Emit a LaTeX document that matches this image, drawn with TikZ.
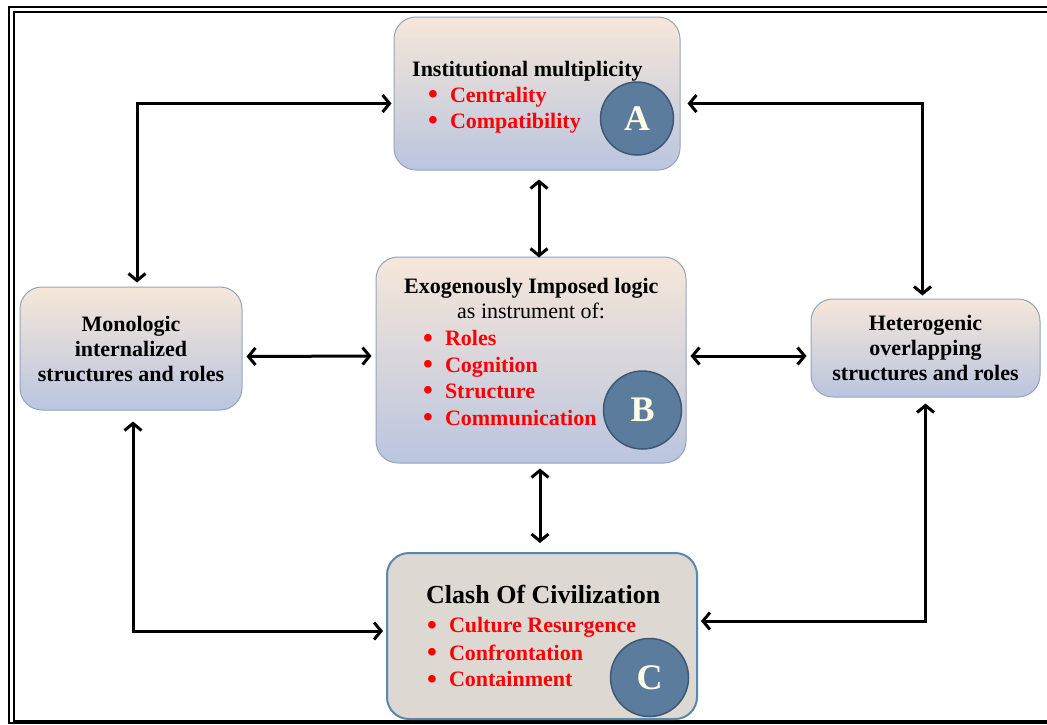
\documentclass[tikz,border=0pt]{standalone}
\usepackage{fontspec}
\setmainfont{Liberation Serif}
\usetikzlibrary{arrows.meta,positioning}

\definecolor{boxtop}{HTML}{F6E7D9}
\definecolor{boxbot}{HTML}{BAC5DF}
\definecolor{boxline}{HTML}{93A5BC}
\definecolor{clashfill}{HTML}{DDD9D2}
\definecolor{clashline}{HTML}{5C86AA}
\definecolor{discfill}{HTML}{5B7C9C}
\definecolor{discline}{HTML}{3E5873}
\definecolor{letter}{HTML}{FFFDE6}
\definecolor{itemred}{HTML}{FF0000}

\newcommand{\bul}[1]{\smash{\raisebox{-1.5pt}{\fontsize{28}{28}\selectfont\textbullet}}\hspace{12pt}#1}

\begin{document}
\begin{tikzpicture}[x=1pt,y=-1pt,
  box/.style={draw=boxline,line width=1pt,rounded corners=22pt,top color=boxtop,bottom color=boxbot,
    font=\fontsize{22}{25}\selectfont\bfseries,align=center},
  clashbox/.style={draw=clashline,line width=2pt,rounded corners=22pt,fill=clashfill},
  disc/.style={circle,draw=discline,line width=1.5pt,fill=discfill,text=letter,inner sep=0pt,
    font=\fontsize{36}{36}\selectfont\bfseries},
  title/.style={anchor=base west,inner sep=0pt,font=\fontsize{22}{26}\selectfont\bfseries},
  item/.style={anchor=base west,inner sep=0pt,text=itemred,font=\fontsize{22}{26}\selectfont\bfseries},
  link/.style={line width=3pt,shorten >=1pt,shorten <=1pt,
    {Straight Barb[length=7pt,width=17pt]}-{Straight Barb[length=7pt,width=17pt]}}]
\useasboundingbox (0,0) rectangle (1047,724);

% frame
\draw[line width=2.5pt] (9,7) rectangle (1070,723);
\draw[line width=2pt] (14,12) rectangle (1070,720.5);

% boxes
\node[box,minimum width=286pt,minimum height=153pt] (inst) at (537,93.5) {};
\node[box,minimum width=310pt,minimum height=206pt] (exo) at (531,360) {};
\node[clashbox,minimum width=310pt,minimum height=166pt] (clash) at (542,636) {};
\node[box,minimum width=222pt,minimum height=123pt] (mono) at (131,348.5) {Monologic\\internalized\\structures and roles};
\node[box,minimum width=229pt,minimum height=98pt] (hetero) at (925.5,348) {Heterogenic\\overlapping\\structures and roles};

% letters
\node[disc,minimum size=73pt] (discA) at (637,118.5) {A};
\node[disc,minimum size=78pt] (discB) at (642.5,410) {B};
\node[disc,minimum size=78pt] (discC) at (649.5,677.5) {C};

% box A
\node[title] (instT) at (412,76) {Institutional multiplicity};
\node[item] (instI1) at (428,102) {\bul{Centrality}};
\node[item] (instI2) at (428,128) {\bul{Compatibility}};

% box B
\node[title] (exoT) at (404,293) {Exogenously Imposed logic};
\node[anchor=base west,inner sep=0pt,font=\fontsize{22}{26}\selectfont] (exoS) at (457,318) {as instrument of:};
\node[item] (exoI1) at (423,345.5) {\bul{Roles}};
\node[item] (exoI2) at (423,372) {\bul{Cognition}};
\node[item] (exoI3) at (423,398) {\bul{Structure}};
\node[item] (exoI4) at (423,425) {\bul{Communication}};

% box C
\node[title,font=\fontsize{26}{30}\selectfont\bfseries] (clashT) at (426,603) {Clash Of Civilization};
\node[item] (clashI1) at (427,632.7) {\bul{Culture Resurgence}};
\node[item] (clashI2) at (427,660) {\bul{Confrontation}};
\node[item] (clashI3) at (427,686.7) {\bul{Containment}};

% connectors
\draw[link] ([shift={(6,-3)}]mono.north) |- ([shift={(-1,10)}]inst.west);
\draw[link] ([shift={(6,10)}]inst.east) -| ([shift={(-3,-2)}]hetero.north);
\draw[link] ([shift={(2,8)}]inst.south) -- ([shift={(8,2)}]exo.north);
\draw[link] ([shift={(3,8)}]mono.east) -- ([shift={(-3,-4)}]exo.west);
\draw[link] ([shift={(3,-4)}]exo.east) -- ([shift={(-3,8)}]hetero.west);
\draw[link] ([shift={(9,4)}]exo.south) -- ([shift={(-2,-8)}]clash.north);
\draw[link] ([shift={(2,10)}]mono.south) |- ([shift={(-2,-5)}]clash.west);
\draw[link] ([shift={(0,5)}]hetero.south) |- ([shift={(2,-15)}]clash.east);
\end{tikzpicture}
\end{document}
